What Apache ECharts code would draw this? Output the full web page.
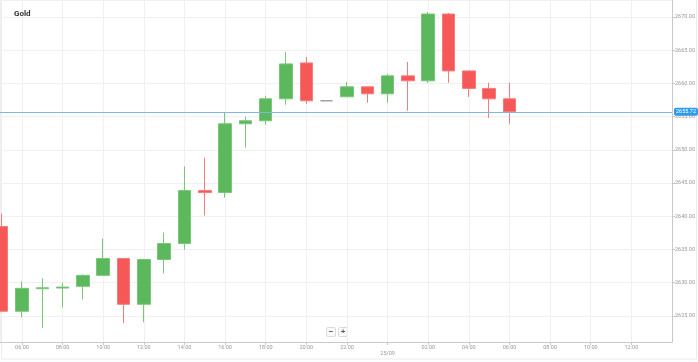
<!DOCTYPE html>
<html>
<head>
<meta charset="utf-8">
<script src="https://cdn.jsdelivr.net/npm/echarts@6/dist/echarts.min.js"></script>
<style>html,body{margin:0;padding:0;background:#fff}#c{width:698px;height:362px}</style>
</head>
<body>
<div id="c"></div>
<script>
// hours since 24/09 00:00 (24 = 25/09 00:00)
const hours = [5,6,7,8,9,10,11,12,13,14,15,16,17,18,19,20,21,22,23,24,25,26,27,28,29,30];
const openV  = [2638.47,2625.71,2629.10,2629.20,2629.46,2631.11,2633.66,2626.76,2633.50,2635.90,2643.87,2643.57,2653.93,2654.38,2657.69,2663.09,2657.39,2657.99,2659.49,2658.44,2661.14,2660.39,2670.45,2661.89,2659.25,2657.69];
const closeV = [2625.71,2629.16,2629.25,2629.35,2631.11,2633.66,2626.76,2633.50,2635.90,2643.87,2643.57,2653.93,2654.38,2657.69,2662.94,2657.39,2657.39,2659.49,2658.44,2661.14,2660.39,2670.45,2661.89,2659.25,2657.69,2655.72];
const lowV   = [2625.55,2624.80,2623.15,2626.30,2627.50,2631.00,2623.90,2624.05,2631.40,2635.00,2640.12,2642.82,2650.33,2653.78,2656.79,2656.94,2657.39,2657.99,2657.09,2657.09,2655.89,2660.09,2660.09,2657.99,2654.83,2653.93];
const highV  = [2640.42,2630.21,2630.66,2630.00,2631.26,2636.67,2633.70,2633.60,2637.57,2647.48,2648.83,2655.59,2654.98,2658.14,2664.74,2664.00,2657.39,2660.24,2659.50,2661.44,2663.24,2670.75,2670.60,2661.90,2660.09,2660.09];
const lastPrice = 2655.72;
const title = 'Gold';
const dayLabel = '25/09';

const candles = hours.map((h, i) => [h, openV[i], closeV[i], lowV[i], highV[i]]);

const chart = echarts.init(document.getElementById('c'), null, {renderer: 'canvas'});
const fontFam = 'Roboto, "Liberation Sans", sans-serif';
chart.setOption({
  animation: false,
  backgroundColor: '#fff',
  title: {
    text: title, left: 9, top: 5,
    textStyle: {fontSize: 8, fontWeight: 'bold', color: '#333', fontFamily: fontFam}
  },
  grid: {left: 0, right: 25, top: 0, bottom: 20, containLabel: false},
  xAxis: {
    type: 'value', min: 4.919, max: 38.0, splitNumber: 17,
    axisLine: {show: true, lineStyle: {color: '#c8c8c8', width: 1}},
    axisTick: {show: true, length: 3, lineStyle: {color: '#c8c8c8'}},
    splitLine: {show: true, lineStyle: {color: '#f0f0f0', width: 1}},
    axisLabel: {
      fontSize: 5.5, color: '#999', margin: 3, fontFamily: fontFam,
      showMinLabel: false, showMaxLabel: false,
      formatter: function (v) {
        if (Math.abs(v - Math.round(v)) > 0.01) return '';
        v = Math.round(v);
        if (v === 24) return '\n' + dayLabel;
        if (v >= 38) return '';
        const h = v % 24;
        return (h < 10 ? '0' : '') + h + ':00';
      }
    }
  },
  yAxis: {
    type: 'value', position: 'right', min: 2621.08, max: 2672.56, splitNumber: 10, scale: true,
    axisLine: {show: true, lineStyle: {color: '#c8c8c8', width: 1}},
    axisTick: {show: true, length: 3, lineStyle: {color: '#c8c8c8'}},
    splitLine: {show: true, lineStyle: {color: '#f0f0f0', width: 1}},
    axisLabel: {
      fontSize: 5.5, color: '#999', margin: 3, fontFamily: fontFam,
      showMinLabel: false, showMaxLabel: false,
      formatter: v => v.toFixed(2)
    }
  },
  series: [{
    type: 'candlestick',
    data: candles,
    dimensions: ['x', 'open', 'close', 'lowest', 'highest'],
    encode: {x: 0, y: [1, 2, 3, 4]},
    barWidth: 13,
    itemStyle: {
      color: '#5cb85c', color0: '#f65858',
      borderColor: '#77c777', borderColor0: '#f87a7a',
      borderColorDoji: '#9a9a9a', borderWidth: 1
    },
    markLine: {
      silent: true, symbol: ['none', 'none'],
      lineStyle: {color: '#7db8ea', width: 1, type: 'solid'},
      label: {
        show: true, position: 'end', distance: 2,
        formatter: () => lastPrice.toFixed(2),
        color: '#fff', backgroundColor: '#2f9be9', borderRadius: 2,
        padding: [1, 2, 1, 2], fontSize: 5.5, fontFamily: fontFam
      },
      data: [{yAxis: lastPrice}]
    }
  }],
  graphic: [
    {type: 'rect', shape: {x: 1.5, y: -2, width: 695, height: 361}, style: {fill: 'none', stroke: '#ececec', lineWidth: 1}, silent: true, z: -1},
    {type: 'group', left: 326, top: 327, children: [
      {type: 'rect', shape: {x: 0, y: 0, width: 9, height: 9, r: 1.5}, style: {fill: '#fafafa', stroke: '#dcdcdc', lineWidth: 1}},
      {type: 'text', style: {text: '−', x: 4.5, y: 4.5, align: 'center', verticalAlign: 'middle', fontSize: 8, fontWeight: 'bold', fill: '#555'}},
      {type: 'rect', shape: {x: 12, y: 0, width: 9, height: 9, r: 1.5}, style: {fill: '#fafafa', stroke: '#dcdcdc', lineWidth: 1}},
      {type: 'text', style: {text: '+', x: 16.5, y: 4.5, align: 'center', verticalAlign: 'middle', fontSize: 8, fontWeight: 'bold', fill: '#555'}}
    ]}
  ]
});
</script>
</body>
</html>
